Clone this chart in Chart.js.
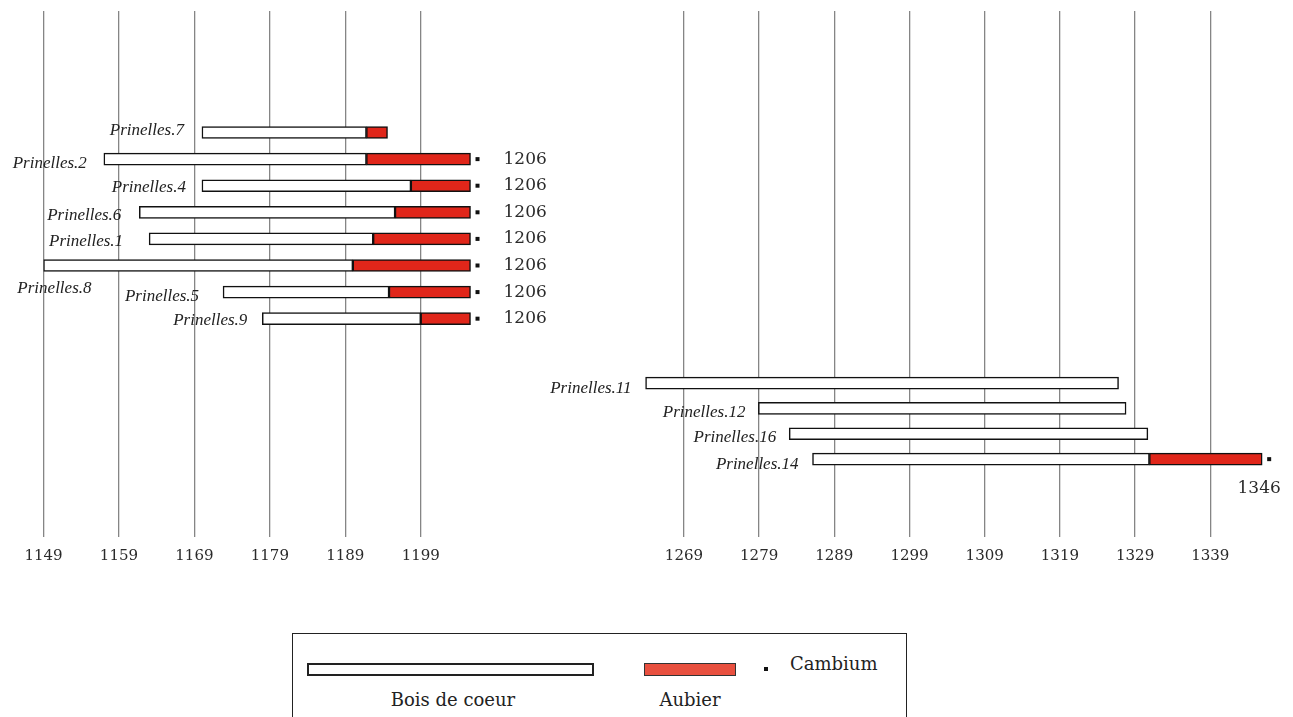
<!DOCTYPE html>
<html lang="fr">
<head>
<meta charset="utf-8">
<title>Prinelles - datations dendrochronologiques</title>
<script src="https://cdn.jsdelivr.net/npm/chart.js@4.4.1/dist/chart.umd.min.js"></script>
<style>
  html, body { margin: 0; padding: 0; background: #fff; }
  body { width: 1293px; height: 717px; position: relative; overflow: hidden; color: #222; }
  .panneau { position: absolute; left: 0; top: 0; width: 1293px; height: 600px; }
  .legende { position: absolute; left: 292px; top: 633px; width: 615px; height: 100px;
             border: 1.5px solid #222; box-sizing: border-box; }
  .leg { position: absolute; box-sizing: border-box; }
  .txt { position: absolute; font-family: "DejaVu Serif", serif; font-size: 18px; color: #222;
         line-height: 22px; white-space: nowrap; }
</style>
</head>
<body>
<div class="panneau"><canvas id="chartGauche"></canvas></div>
<div class="panneau"><canvas id="chartDroite"></canvas></div>

<div class="legende"></div>
<div class="leg" style="left:307px;top:663px;width:287px;height:13px;background:#fff;border:2px solid #222"></div>
<div class="leg" style="left:644px;top:663px;width:92px;height:13px;background:#e8503f;border:1.5px solid #333"></div>
<div class="leg" style="left:764px;top:667px;width:4px;height:4px;background:#111"></div>
<div class="txt" style="left:790px;top:653px">Cambium</div>
<div class="txt" style="left:353px;top:689px;width:200px;text-align:center">Bois de coeur</div>
<div class="txt" style="left:590px;top:689px;width:200px;text-align:center">Aubier</div>

<script>
// --- Données ---
// Panneau gauche (fin XIIe siècle)
const gaucheNoms    = ['Prinelles.7','Prinelles.2','Prinelles.4','Prinelles.6','Prinelles.1','Prinelles.8','Prinelles.5','Prinelles.9'];
const gaucheDebut   = [1170, 1157, 1170, 1161.7, 1163, 1149, 1172.8, 1178];      // début bois de coeur
const gaucheAubier  = [1191.8, 1191.8, 1197.7, 1195.6, 1192.7, 1190, 1194.8, 1199]; // début aubier
const gaucheFin     = [1194.6, 1205.6, 1205.6, 1205.6, 1205.6, 1205.6, 1205.6, 1205.6];
const gaucheCambium = [null, 1206, 1206, 1206, 1206, 1206, 1206, 1206];
const gaucheTicks   = [1149, 1159, 1169, 1179, 1189, 1199];

// Panneau droit (XIVe siècle)
const droiteNoms    = ['Prinelles.11','Prinelles.12','Prinelles.16','Prinelles.14'];
const droiteDebut   = [1263.9, 1278.9, 1283, 1286.1];
const droiteAubier  = [null, null, null, 1330.9];
const droiteFin     = [1326.8, 1327.8, 1330.7, 1345.9];
const droiteCambium = [null, null, null, 1346];
const droiteTicks   = [1269, 1279, 1289, 1299, 1309, 1319, 1329, 1339];

// --- Mise en page (décalage des étiquettes : [écart au début de la barre, décalage vertical]) ---
const gaucheEtiq = [[18,-2],[17,4],[16,2],[18,3],[26,3],[-48,23],[24,4],[15,2]];
const droiteEtiq = [[14,5],[13,4],[13,4],[14,5]];

const ROUGE = '#e0261a';
const GRILLE = '#858585';

// Étiquettes des échantillons, marques du cambium et années
const etiquettesPlugin = {
  id: 'etiquettes',
  afterDatasetsDraw(chart) {
    const o = chart.options.plugins.etiquettes;
    const xs = chart.scales.x, ys = chart.scales.y;
    const ctx = chart.ctx;
    ctx.save();
    o.noms.forEach((nom, i) => {
      const y = ys.getPixelForValue(i);
      const x0 = xs.getPixelForValue(o.debut[i]);
      ctx.font = 'italic 17px "Liberation Serif", serif';
      ctx.fillStyle = '#222';
      ctx.textAlign = 'right';
      ctx.textBaseline = 'middle';
      ctx.fillText(nom, x0 - o.etiq[i][0], y + o.etiq[i][1]);

      if (o.cambium[i] != null) {
        const xm = xs.getPixelForValue(o.fin[i]) + 7;
        ctx.fillStyle = '#111';
        ctx.fillRect(xm - 2, y - 2, 4, 4);
        ctx.font = '17px "DejaVu Serif", serif';
        ctx.fillStyle = '#2a2a2a';
        ctx.textAlign = o.annee.align;
        ctx.fillText(String(o.cambium[i]), xm + o.annee.dx, y + o.annee.dy);
      }
    });
    ctx.restore();
  }
};

function creerGraphique(id, p) {
  const coeur = p.noms.map((n, i) => ({ y: i, x: [p.debut[i], p.aubier[i] != null ? p.aubier[i] : p.fin[i]] }));
  const aubier = [];
  p.noms.forEach((n, i) => {
    if (p.aubier[i] != null) aubier.push({ y: i, x: [p.aubier[i], p.fin[i]] });
  });

  const barre = { borderColor: '#111', borderWidth: 1.5, borderSkipped: false, grouped: false, barThickness: 12 };

  return new Chart(document.getElementById(id).getContext('2d'), {
    type: 'bar',
    data: {
      datasets: [
        Object.assign({ label: 'Bois de coeur', data: coeur, backgroundColor: '#fff' }, barre),
        Object.assign({ label: 'Aubier', data: aubier, backgroundColor: ROUGE }, barre)
      ]
    },
    options: {
      indexAxis: 'y',
      responsive: true, maintainAspectRatio: false,
      animation: false, events: [],
      layout: { padding: p.padding },
      scales: {
        x: {
          type: 'linear', min: p.min, max: p.max,
          afterBuildTicks: s => { s.ticks = p.ticks.map(v => ({ value: v })); },
          grid: { color: GRILLE, lineWidth: 1.3, drawTicks: false },
          border: { display: false },
          ticks: { padding: 10, color: '#2a2a2a', font: { family: '"DejaVu Serif", serif', size: 15 },
                   callback: v => String(v), maxRotation: 0, autoSkip: false }
        },
        y: { type: 'linear', reverse: true, min: p.ymin, max: p.ymax, offset: false, bounds: 'data',
             grace: 0, display: false }
      },
      plugins: {
        legend: { display: false },
        tooltip: { enabled: false },
        etiquettes: { noms: p.noms, debut: p.debut, fin: p.fin, cambium: p.cambium, etiq: p.etiq, annee: p.annee }
      }
    },
    plugins: [etiquettesPlugin]
  });
}

window.chartGauche = creerGraphique('chartGauche', {
  noms: gaucheNoms, debut: gaucheDebut, aubier: gaucheAubier, fin: gaucheFin, cambium: gaucheCambium,
  ticks: gaucheTicks, etiq: gaucheEtiq,
  min: 1149, max: 1212, ymin: -4.57, ymax: 15.21,
  padding: { left: 43.5, right: 774.2, top: 11, bottom: 25 },
  annee: { dx: 26, dy: 0, align: 'left' }
});

window.chartDroite = creerGraphique('chartDroite', {
  noms: droiteNoms, debut: droiteDebut, aubier: droiteAubier, fin: droiteFin, cambium: droiteCambium,
  ticks: droiteTicks, etiq: droiteEtiq,
  min: 1262, max: 1350, ymin: -14.67, ymax: 6.07,
  padding: { left: 631.3, right: 0, top: 11, bottom: 25 },
  annee: { dx: -10, dy: 29, align: 'center' }
});
</script>
</body>
</html>
